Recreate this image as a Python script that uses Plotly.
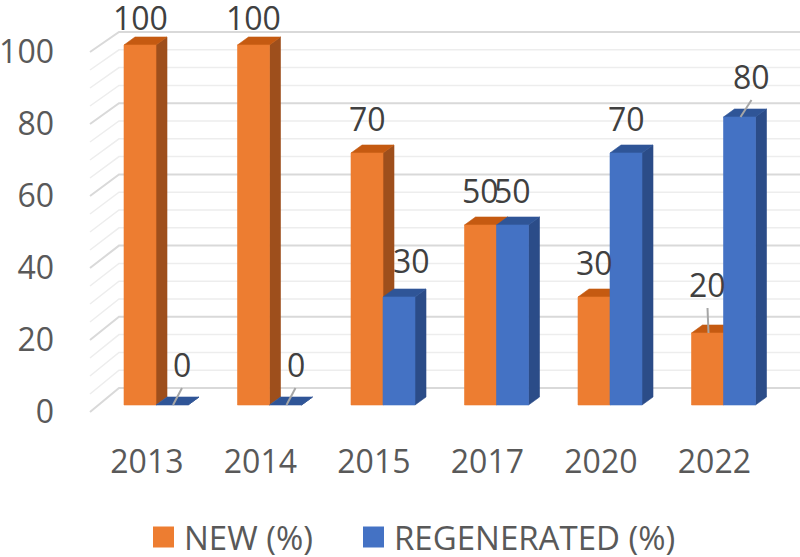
import plotly.graph_objects as go

# ---------------- data ----------------
categories = ["2013", "2014", "2015", "2017", "2020", "2022"]
new_pct = [100, 100, 70, 50, 30, 20]
regen_pct = [0, 0, 30, 50, 70, 80]
y_tick_values = [0, 20, 40, 60, 80, 100]
series_names = ["NEW (%)", "REGENERATED (%)"]

# ---------------- style / geometry (page pixels) ----------------
W, H = 800, 557
PLOT_L, PLOT_R, PLOT_T, PLOT_B = 60, 800, 0, 440   # plot area in page px
PX_CAT = 113.5          # px per category step
PX_UNIT = 3.6           # px per value unit
X0_PX = 156             # page px of first group centre
Y0_PX = 405             # page px of value 0 (front)
BAR_W_PX = 32
DEPTH_X_PX = 11
DEPTH_Y_PX = 8
FONT = "Open Sans"
AX_COLOR = "#595959"
LBL_COLOR = "#404040"

colors = {
    "NEW (%)": dict(front="#ED7D31", top="#C55A11", side="#9E4F1C"),
    "REGENERATED (%)": dict(front="#4472C4", top="#2F5597", side="#2B4C88"),
}

def px_to_x(px):
    return (px - X0_PX) / PX_CAT

def px_to_y(py):
    return (Y0_PX - py) / PX_UNIT

def px_to_paper_x(px):
    return (px - PLOT_L) / (PLOT_R - PLOT_L)

def px_to_paper_y(py):
    return (PLOT_B - py) / (PLOT_B - PLOT_T)

w = BAR_W_PX / PX_CAT
dx = DEPTH_X_PX / PX_CAT
dy = DEPTH_Y_PX / PX_UNIT

x_range = [px_to_x(PLOT_L), px_to_x(PLOT_R)]
y_range = [px_to_y(PLOT_B), px_to_y(PLOT_T)]

fig = go.Figure()

# ---------------- walls / gridlines ----------------
def back_y(v):       # back wall page y for value v
    return 388 - 3.56 * v

def left_front_y(v):  # left wall front-edge page y for value v
    return 412 - 3.6 * v

WALL_X_PX = 119
LEFT_X_PX = 90
for major in (False, True):
    xs, ys = [], []
    for v in range(0, 101, 5):
        if (v % 20 == 0) != major:
            continue
        xs += [px_to_x(LEFT_X_PX), px_to_x(WALL_X_PX), px_to_x(PLOT_R + 5), None]
        ys += [px_to_y(left_front_y(v)), px_to_y(back_y(v)), px_to_y(back_y(v)), None]
    fig.add_trace(go.Scatter(
        x=xs, y=ys, mode="lines", hoverinfo="skip", showlegend=False,
        line=dict(color="#D9D9D9" if major else "#EDEDED", width=2 if major else 1.5),
    ))

# ---------------- 3D bars ----------------
def poly_trace(polys, color, name):
    xs, ys = [], []
    for p in polys:
        for (a, b) in p:
            xs.append(a)
            ys.append(b)
        xs.append(p[0][0]); ys.append(p[0][1])
        xs.append(None); ys.append(None)
    return go.Scatter(x=xs, y=ys, mode="lines", fill="toself", fillcolor=color,
                      line=dict(color=color, width=0.6), hoverinfo="skip",
                      name=name, showlegend=False)

for s, vals in zip(series_names, [new_pct, regen_pct]):
    sides, tops, fronts = [], [], []
    for i, v in enumerate(vals):
        left = i - w if s == series_names[0] else i
        right = left + w
        sides.append([(right, 0), (right + dx, dy), (right + dx, v + dy), (right, v)])
        tops.append([(left, v), (right, v), (right + dx, v + dy), (left + dx, v + dy)])
        if v > 0:
            fronts.append([(left, 0), (right, 0), (right, v), (left, v)])
    c = colors[s]
    fig.add_trace(poly_trace(sides, c["side"], s))
    fig.add_trace(poly_trace(tops, c["top"], s))
    fig.add_trace(poly_trace(fronts, c["front"], s))

# ---------------- data labels ----------------
LABEL_OFFSET_PX = 35
label_nudge = {   # (dx px, dy px) ; dy negative = up
    ("NEW (%)", "2013"): (0, 7),
    ("NEW (%)", "2014"): (0, 7),
    ("REGENERATED (%)", "2013"): (10, -6),
    ("REGENERATED (%)", "2014"): (10, -6),
    ("REGENERATED (%)", "2015"): (12, -2),
    ("NEW (%)", "2022"): (0, -14),
    ("REGENERATED (%)", "2022"): (12, -6),
}
leader = {("REGENERATED (%)", "2013"), ("REGENERATED (%)", "2014"),
          ("NEW (%)", "2022"), ("REGENERATED (%)", "2022")}

annotations = []
shapes = []
for s, vals in zip(series_names, [new_pct, regen_pct]):
    for i, v in enumerate(vals):
        xc = i - w / 2 if s == series_names[0] else i + w / 2
        nx, ny = label_nudge.get((s, categories[i]), (0, 0))
        annotations.append(dict(
            x=xc, y=v, xref="x", yref="y", text=str(v), showarrow=False,
            xshift=nx, yshift=LABEL_OFFSET_PX - ny,
            font=dict(family=FONT, size=32, color=LBL_COLOR),
            xanchor="center", yanchor="middle",
        ))
        if (s, categories[i]) in leader:
            end_up = LABEL_OFFSET_PX - ny - 24
            shapes.append(dict(
                type="line", xref="x", yref="y",
                x0=xc + 1 / PX_CAT, y0=v,
                x1=xc + nx / PX_CAT, y1=v + end_up / PX_UNIT,
                line=dict(color="#A6A6A6", width=2),
            ))

# ---------------- legend (drawn as shapes + text) ----------------
LEG_Y = 537
LEG_SQ = 21
legend_items = [(series_names[0], 153), (series_names[1], 363)]
for s, sq_left in legend_items:
    shapes.append(dict(
        type="rect", xref="paper", yref="paper",
        x0=px_to_paper_x(sq_left), x1=px_to_paper_x(sq_left + LEG_SQ),
        y0=px_to_paper_y(LEG_Y + LEG_SQ / 2), y1=px_to_paper_y(LEG_Y - LEG_SQ / 2),
        fillcolor=colors[s]["front"], line=dict(width=0),
    ))
    annotations.append(dict(
        x=px_to_paper_x(sq_left + LEG_SQ + 8), y=px_to_paper_y(LEG_Y),
        xref="paper", yref="paper", text=s, showarrow=False,
        xanchor="left", yanchor="middle",
        font=dict(family=FONT, size=33, color=AX_COLOR),
    ))

fig.update_layout(
    width=W, height=H,
    margin=dict(l=PLOT_L, r=W - PLOT_R, t=PLOT_T, b=H - PLOT_B,
                pad=0, autoexpand=False),
    paper_bgcolor="white", plot_bgcolor="white",
    font=dict(family=FONT, color=AX_COLOR, size=32),
    xaxis=dict(
        range=x_range, showgrid=False, zeroline=False, showline=False,
        tickmode="array",
        tickvals=[i - 0.08 for i in range(len(categories))],
        ticktext=categories, ticks="", automargin=False,
        tickfont=dict(family=FONT, size=32, color=AX_COLOR),
        fixedrange=True,
    ),
    yaxis=dict(
        range=y_range, showgrid=False, zeroline=False, showline=False,
        tickmode="array",
        tickvals=[v - 1.94 for v in y_tick_values],
        ticktext=[str(v) for v in y_tick_values], ticks="", automargin=False,
        ticklabelstandoff=5,
        tickfont=dict(family=FONT, size=32, color=AX_COLOR),
        fixedrange=True,
    ),
    showlegend=False,
    hovermode=False,
    annotations=annotations,
    shapes=shapes,
)

# remove the browser's default page margin so the 800x557 figure fills the window
fig.write_html("out.html", config={"displayModeBar": False},
               post_script="document.body.style.margin='0px';")
